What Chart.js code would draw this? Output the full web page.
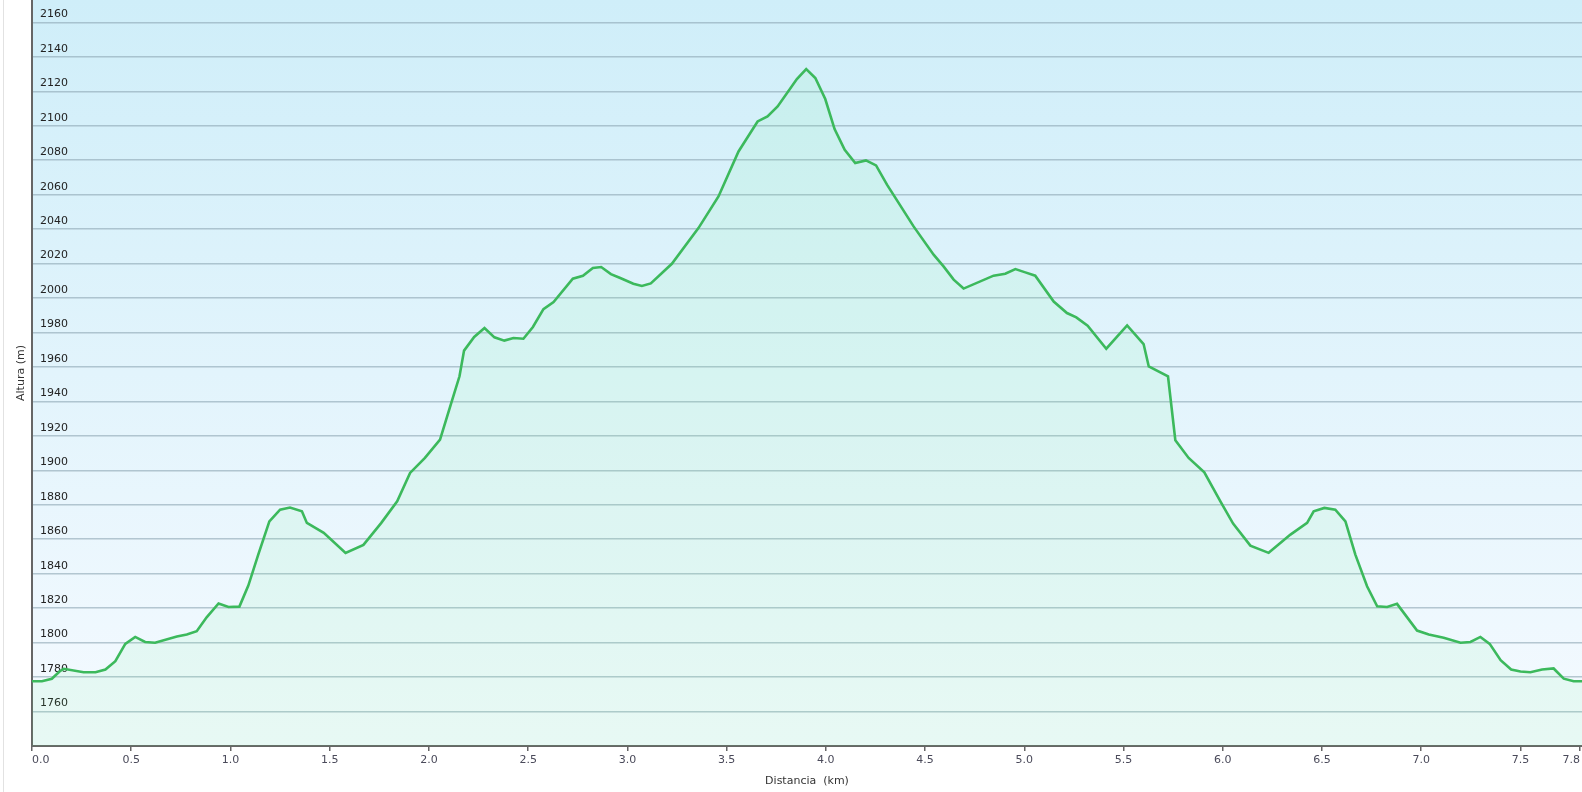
<!DOCTYPE html>
<html>
<head>
<meta charset="utf-8">
<script src="https://cdn.jsdelivr.net/npm/chart.js@4/dist/chart.umd.min.js"></script>
<style>
  html, body { margin: 0; padding: 0; background: #fff; }
  #wrap { width: 1582px; height: 792px; }
</style>
</head>
<body>
<div id="wrap"><canvas id="perfil" width="1582" height="792"></canvas></div>
<script>
var distancia = [
  0.00, 0.05, 0.10, 0.14, 0.16, 0.26, 0.32, 0.37, 0.42, 0.47,
  0.52, 0.57, 0.62, 0.73, 0.78, 0.83, 0.88, 0.94, 0.99, 1.045,
  1.09, 1.14, 1.196, 1.25, 1.30, 1.36, 1.385, 1.47, 1.58, 1.67,
  1.76, 1.84, 1.905, 1.98, 2.056, 2.115, 2.154, 2.177, 2.228, 2.28,
  2.33, 2.38, 2.426, 2.476, 2.524, 2.577, 2.628, 2.725, 2.776, 2.826,
  2.868, 2.917, 2.964, 3.03, 3.073, 3.118, 3.224, 3.358, 3.459, 3.56,
  3.656, 3.706, 3.757, 3.854, 3.901, 3.947, 3.997, 4.044, 4.095, 4.148,
  4.202, 4.253, 4.308, 4.442, 4.543, 4.593, 4.644, 4.694, 4.845, 4.904,
  4.955, 5.005, 5.055, 5.148, 5.215, 5.262, 5.319, 5.413, 5.518, 5.601,
  5.627, 5.724, 5.761, 5.828, 5.907, 5.988, 6.052, 6.139, 6.231, 6.341,
  6.425, 6.458, 6.512, 6.567, 6.618, 6.668, 6.727, 6.778, 6.828, 6.878,
  6.979, 7.038, 7.113, 7.198, 7.248, 7.298, 7.345, 7.40, 7.453, 7.50,
  7.55, 7.609, 7.667, 7.718, 7.768, 7.81
];

var altura = [
  1777.6, 1777.6, 1779, 1783.4, 1784.8, 1782.8, 1782.8, 1784.4, 1789.2, 1799.3,
  1803.3, 1800.4, 1799.9, 1803.5, 1804.7, 1806.6, 1814.7, 1822.7, 1820.7, 1820.9,
  1833.1, 1851.1, 1870.4, 1877.2, 1878.4, 1876.2, 1869.5, 1863.7, 1852.1, 1856.7,
  1869.5, 1882, 1898.5, 1907.2, 1917.8, 1940, 1954.6, 1969.5, 1977.4, 1982.6,
  1977.2, 1975.3, 1976.8, 1976.4, 1983.2, 1993.6, 1997.7, 2011.2, 2012.9, 2017.4,
  2018, 2013.9, 2011.6, 2008.3, 2007, 2008.5, 2019.9, 2040.6, 2059, 2085.1,
  2102.5, 2105.4, 2111.2, 2127.1, 2132.9, 2127.7, 2115.5, 2098.1, 2086.1, 2078.4,
  2079.9, 2077, 2065.8, 2041.6, 2025.2, 2018.4, 2010.7, 2005.5, 2013, 2014.1,
  2016.8, 2014.9, 2013, 1998, 1991.3, 1988.8, 1984, 1970.6, 1984.1, 1973.3,
  1960.3, 1954.6, 1917.4, 1907.2, 1898.8, 1882, 1869.1, 1856.3, 1852.1, 1862.7,
  1869.5, 1876.2, 1878.2, 1877.2, 1870.4, 1851.1, 1832.7, 1821.1, 1820.7, 1822.5,
  1807, 1804.7, 1802.8, 1799.9, 1800.4, 1803.3, 1799.3, 1789.8, 1784.4, 1783.2,
  1782.8, 1784.4, 1785, 1779.1, 1777.6, 1777.6
];

var ticksX = [0, 0.5, 1, 1.5, 2, 2.5, 3, 3.5, 4, 4.5, 5, 5.5, 6, 6.5, 7, 7.5, 7.8];
var ticksY = [1760, 1780, 1800, 1820, 1840, 1860, 1880, 1900, 1920, 1940,
              1960, 1980, 2000, 2020, 2040, 2060, 2080, 2100, 2120, 2140, 2160];

var puntos = [];
for (var i = 0; i < distancia.length; i++) {
  puntos.push({ x: distancia[i], y: altura[i] });
}

// fondo degradado del area del grafico + borde fino a la izquierda
var fondo = {
  id: 'fondo',
  beforeDraw: function(chart) {
    var a = chart.chartArea;
    var ctx = chart.ctx;
    var g = ctx.createLinearGradient(0, a.top, 0, a.bottom);
    g.addColorStop(0, '#cfeef9');
    g.addColorStop(1, '#f5faff');
    ctx.save();
    ctx.fillStyle = g;
    ctx.fillRect(a.left, a.top, a.right - a.left, a.bottom - a.top);
    ctx.strokeStyle = '#e2e2e2';
    ctx.lineWidth = 1;
    ctx.beginPath();
    ctx.moveTo(3.5, 0);
    ctx.lineTo(3.5, chart.height);
    ctx.stroke();
    ctx.restore();
  }
};

var fuente = { family: 'DejaVu Sans', size: 11 };

var ctx = document.getElementById('perfil').getContext('2d');
var chart = new Chart(ctx, {
  type: 'line',
  data: {
    datasets: [{
      data: puntos,
      borderColor: '#3cb95c',
      borderWidth: 2.6,
      pointRadius: 0,
      tension: 0,
      fill: 'start',
      backgroundColor: 'rgba(100,240,130,0.09)'
    }]
  },
  plugins: [fondo],
  options: {
    responsive: false,
    animation: false,
    layout: { padding: 0 },
    plugins: { legend: { display: false }, tooltip: { enabled: false } },
    scales: {
      x: {
        type: 'linear',
        min: 0,
        max: 7.81,
        afterBuildTicks: function(s) { s.ticks = ticksX.map(function(v) { return { value: v }; }); },
        afterFit: function(s) { s.height = 46; s.paddingLeft = 0; s.paddingRight = 0; },
        grid: { drawOnChartArea: false, drawTicks: true, tickLength: 5, color: '#666', lineWidth: 1.5 },
        border: { color: '#666', width: 2 },
        ticks: {
          align: 'inner',
          maxRotation: 0,
          autoSkip: false,
          padding: 3,
          color: '#4a4a5a',
          font: fuente,
          callback: function(v) { return Number(v).toFixed(1); }
        },
        title: { display: true, text: 'Distancia  (km)', color: '#333', font: fuente, padding: { top: 2, bottom: 4 } }
      },
      y: {
        min: 1740,
        max: 2173,
        afterBuildTicks: function(s) { s.ticks = ticksY.map(function(v) { return { value: v }; }); },
        afterFit: function(s) { s.width = 32; s.paddingTop = 0; s.paddingBottom = 0; },
        grid: { drawTicks: false, color: 'rgba(140,165,178,0.6)', lineWidth: 1.6 },
        border: { color: '#666', width: 2 },
        ticks: {
          mirror: true,
          padding: 8,
          labelOffset: -8,
          color: '#222',
          font: fuente,
          callback: function(v) { return String(v); }
        },
        title: { display: true, text: 'Altura (m)', color: '#333', font: fuente, padding: { top: 15, bottom: 0 } }
      }
    }
  }
});
</script>
</body>
</html>
